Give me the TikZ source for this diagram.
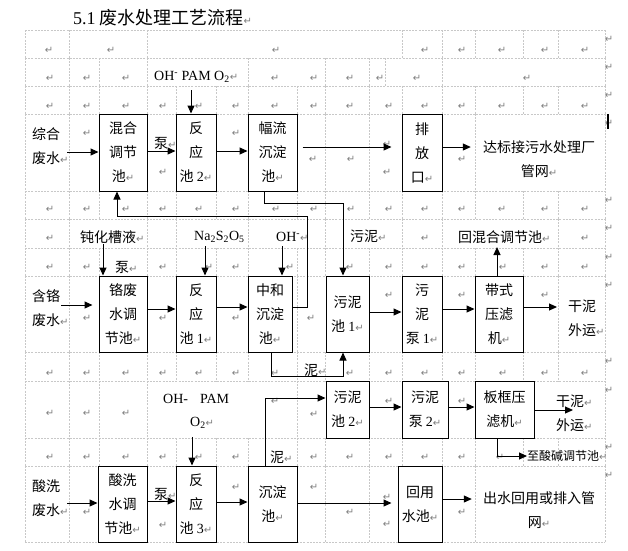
\documentclass[tikz,border=0pt]{standalone}
\usepackage{fontspec}
\setmainfont{Noto Sans CJK SC}
\newfontfamily\lat{Liberation Serif}
\newfontfamily\symf{DejaVu Sans}
\usepackage{xcolor}
\usepackage{tikz}
\usetikzlibrary{
  arrows.meta,
  positioning
}
\definecolor{CellGray}{RGB}{200,200,200}
\definecolor{MarkGray}{RGB}{125,125,125}
\newcommand{\rt}{{\symf\fontsize{10}{10}\selectfont\textcolor{MarkGray}{↵}}}
\tikzset{
    unit/.style={draw, fill=white, line width=1pt, inner sep=0pt, align=center,
        font=\fontsize{14}{24}\selectfont},
    note/.style={inner sep=0pt, align=left, font=\fontsize{14}{24}\selectfont},
    flow/.style={-{Triangle[length=8pt,width=7pt]}, line width=1pt},
    cellline/.style={CellGray, dash pattern=on 2pt off 1.2pt, line width=0.6pt},
    retmark/.style={inner sep=0pt}
}

\begin{document}
\begin{tikzpicture}[x=1pt, y=-1pt]
\useasboundingbox (0,0) rectangle (628,550);

% table grid of the page
\foreach \y in {30,58,86,114,191,219,248,276,352,381,438,466,542}
    \draw[cellline] (25,\y) -- (605,\y);
\foreach \t/\b/\xs in {
    30/58/{25,69,147,402,442,475,523,558,605},
    58/86/{25,69,99,147,248,325,369,385,442,605},
    86/114/{25,69,99,147,176,216,248,297,325,369,402,442,475,523,558,605},
    114/191/{25,69,325,369,475,605},
    191/219/{25,69,99,147,176,216,248,297,325,369,402,442,475,523,558,605},
    219/248/{25,69,147,176,248,325,402,442,558,605},
    248/276/{25,69,99,147,176,216,248,297,325,369,402,442,475,523,558,605},
    276/352/{25,69,297,558,605},
    352/381/{25,69,99,147,176,216,248,297,325,369,402,442,475,523,558,605},
    381/438/{25,69,99,147,297,605},
    438/466/{25,69,99,147,176,216,248,297,325,369,402,442,475,523,558,605},
    466/542/{25,69,325,369,475,605}}
    \foreach \x in \xs
        \draw[cellline] (\x,\t) -- (\x,\b);

% paragraph marks in the empty cells
\foreach \x/\y in {49/50,111/50,276/50,425/50,462/50,502/50,545/50,585/50,
    50/78,87/78,126/78,275/78,314/78,350/78,380/78,417/78,527/78,
    50/106,87/106,126/106,163/106,199/106,236/106,275/106,314/106,350/106,389/106,425/106,462/106,502/106,545/106,585/106,
    87/133,163/172,236/133,313/159,351/159,387/144,387/172,462/159,
    50/209,87/209,126/209,163/209,199/209,236/209,276/209,314/209,351/209,389/209,425/209,462/209,502/209,545/209,585/209,
    50/238,425/238,585/238,
    50/267,87/267,163/267,209/267,236/267,290/267,350/267,389/267,425/267,462/267,503/267,545/267,585/267,
    87/318,163/318,236/318,311/318,389/295,462/295,545/295,
    50/373,87/373,126/373,163/373,199/373,236/373,275/373,350/373,389/373,425/373,462/373,503/373,545/373,585/373,
    50/413,87/413,126/413,275/401,314/414,389/401,462/401,
    50/457,87/457,126/457,163/457,199/457,236/457,314/457,350/457,389/457,425/457,462/457,500/457,
    87/512,163/525,236/487,314/487,350/512,387/497,387/524,462/512,
    609/39,609/67,609/95,609/123,609/200,609/228,609/257,609/285,609/361,609/390,609/447,609/475}
    \node[retmark] at (\x,\y) {\rt};
\draw[line width=1.6pt] (608,114) -- (608,129);

% title
\node[anchor=west, inner sep=0pt, font=\fontsize{18}{18}\selectfont] (title) at (73,18)
    {{\lat 5.1} 废水处理工艺流程\rt};

% units, row 1
\node[unit, minimum width=48pt, minimum height=77pt] (mixA) at (123,152.5) {混合\\调节\\池\rt};
\node[unit, minimum width=40pt, minimum height=77pt] (rxn2) at (196,152.5) {反\\应\\池 {\lat 2}\rt};
\node[unit, minimum width=49pt, minimum height=77pt] (sedA) at (272.5,152.5) {幅流\\沉淀\\池\rt};
\node[unit, minimum width=40pt, minimum height=77pt] (outlet) at (422,152.5) {排\\放\\口\rt};
% units, row 2
\node[unit, minimum width=48pt, minimum height=76pt] (crEq) at (123,314) {铬废\\水调\\节池\rt};
\node[unit, minimum width=40pt, minimum height=76pt] (rxn1) at (196,314) {反\\应\\池 {\lat 1}\rt};
\node[unit, minimum width=44pt, minimum height=76pt] (neut) at (270,314) {中和\\沉淀\\池\rt};
\node[unit, minimum width=43pt, minimum height=76pt] (sludge1) at (347.5,314) {污泥\\池 {\lat 1}\rt};
\node[unit, minimum width=40pt, minimum height=76pt] (pump1) at (422,314) {污\\泥\\泵 {\lat 1}\rt};
\node[unit, minimum width=48pt, minimum height=76pt] (belt) at (499,314) {带式\\压滤\\机\rt};
% units, row 3
\node[unit, minimum width=43pt, minimum height=57pt] (sludge2) at (347.5,409.5) {污泥\\池 {\lat 2}\rt};
\node[unit, minimum width=46pt, minimum height=57pt] (pump2) at (425,409.5) {污泥\\泵 {\lat 2}\rt};
\node[unit, minimum width=59pt, minimum height=57pt] (plate) at (504.5,409.5) {板框压\\滤机\rt};
% units, row 4
\node[unit, minimum width=49pt, minimum height=76pt] (acEq) at (122.5,504) {酸洗\\水调\\节池\rt};
\node[unit, minimum width=40pt, minimum height=76pt] (rxn3) at (196,504) {反\\应\\池 {\lat 3}\rt};
\node[unit, minimum width=49pt, minimum height=76pt] (sedD) at (272.5,504) {沉淀\\池\rt};
\node[unit, minimum width=44pt, minimum height=76pt] (reuse) at (420,504) {回用\\水池\rt};

% texts
\node[note, anchor=west] (srcA) at (32,146) {综合\\废水\rt};
\node[note, anchor=west] (srcB) at (32,308) {含铬\\废水\rt};
\node[note, anchor=west] (srcD) at (32,498) {酸洗\\废水\rt};
\node[note, align=center] (destA) at (539,159) {达标接污水处理厂\\管网\rt};
\node[note, align=center] (destD) at (539,510) {出水回用或排入管\\网\rt};
\node[note, anchor=west] (dryB) at (568,318) {干泥\\外运\rt};
\node[note, anchor=west] (dryC) at (556,413.5) {干泥\rt\\外运\rt};
\node[note, anchor=west] (backMix) at (458,237) {回混合调节池\rt};
\node[note, anchor=west, font=\fontsize{12}{12}\selectfont] (toAcid) at (527,456) {至酸碱调节池\rt};
\node[note, anchor=west] (sludgeTag) at (350,236) {污泥\rt};
\node[note, anchor=west] (mudB) at (304,370) {泥\rt};
\node[note, anchor=west] (mudD) at (270,457) {泥\rt};
\node[note, anchor=west] (pumpA) at (154,143) {泵\rt};
\node[note, anchor=west] (pumpB) at (115,267) {泵\rt};
\node[note, anchor=west] (pumpD) at (154,494) {泵\rt};
\node[note, anchor=west] (passiv) at (80,237) {钝化槽液\rt};
\node[note, anchor=west] (naS) at (194,237) {\lat Na\textsubscript{2}S\textsubscript{2}O\textsubscript{5}};
\node[note, anchor=west] (ohB) at (276,237) {{\lat OH\textsuperscript{-}}\rt};
\node[note, anchor=west] (chemA) at (154,77) {{\lat OH\textsuperscript{-} PAM O\textsubscript{2}}\rt};
\node[note, anchor=west] (chemC) at (163,399) {\lat OH-\hspace{12pt}PAM};
\node[note, anchor=west] (oxC) at (190,423) {{\lat O\textsubscript{2}}\rt};

% free ends
\coordinate (inA) at (67,152);
\coordinate (inB) at (61,305);
\coordinate (inD) at (67,503);
\coordinate (cA) at (191,90);
\coordinate (cB1) at (103,244);
\coordinate (cB2) at (205,246);
\coordinate (cB3) at (282,246);
\coordinate (cC) at (192,437);
\coordinate (jA) at (343,203);
\coordinate (jB) at (307,216);
\coordinate (jC) at (117,216);
\coordinate (jD) at (343,376);
\coordinate (jE) at (265,398);
\coordinate (jF) at (497,456);
\coordinate (bUp) at (497,247);
\coordinate (dryTip) at (573,410);

% row 1
\draw[flow] (inA) -- (inA -| mixA.west);
\draw[flow] ([yshift=1.5pt]mixA.east) -- ([yshift=1.5pt]rxn2.west);
\draw[flow] ([yshift=1.5pt]rxn2.east) -- ([yshift=1.5pt]sedA.west);
\draw[flow, shorten <=5pt, shorten >=10pt] ([yshift=5.5pt]sedA.east) -- ([yshift=5.5pt]sedA.east -| outlet.west);
\draw[flow, shorten >=12pt] ([yshift=5.5pt]outlet.east) -- ([yshift=5.5pt]outlet.east -| destA.west);
\draw[flow] (cA) -- (cA |- rxn2.north);
\draw[flow] ([xshift=-8.5pt]sedA.south) |- (jA) -- (jA |- sludge1.north);
\draw[flow] ([yshift=7pt]neut.east) -| (jB) -- (jC) -- (jC |- mixA.south);

% row 2
\draw[flow] (cB1) -- (cB1 |- crEq.north);
\draw[flow] (cB2) -- (cB2 |- rxn1.north);
\draw[flow] (cB3) -- (cB3 |- neut.north);
\draw[flow, shorten >=6pt] (inB) -- (inB -| crEq.west);
\draw[flow] ([yshift=5pt]crEq.east) -- ([yshift=5pt]crEq.east -| rxn1.west);
\draw[flow] ([yshift=7pt]rxn1.east) -- ([yshift=7pt]rxn1.east -| neut.west);
\draw[flow] ([xshift=1pt]neut.south) |- (jD) -- (jD |- sludge1.south);
\draw[flow] ([yshift=2pt]sludge1.east) -- ([yshift=2pt]sludge1.east -| pump1.west);
\draw[flow] ([yshift=5pt]pump1.east) -- ([yshift=5pt]pump1.east -| belt.west);
\draw[flow, shorten >=11pt] ([yshift=7pt]belt.east) -- ([yshift=7pt]belt.east -| dryB.west);
\draw[flow] (bUp |- belt.north) -- (bUp);

% row 3
\draw[flow] ([xshift=-7.5pt]sedD.north) -- (jE) -- (jE -| sludge2.west);
\draw[flow] ([yshift=2.5pt]sludge2.east) -- ([yshift=2.5pt]pump2.west);
\draw[flow] ([yshift=2.5pt]pump2.east) -- ([yshift=2.5pt]plate.west);
\draw[flow] (plate.east |- dryTip) -- (dryTip);
\draw[flow] (jF |- plate.south) -- (jF) -- (jF -| toAcid.west);

% row 4
\draw[flow] (cC) -- (cC |- rxn3.north);
\draw[flow] (inD) -- (inD -| acEq.west);
\draw[flow] ([yshift=3pt]acEq.east) -- ([yshift=3pt]acEq.east -| rxn3.west);
\draw[flow] ([yshift=2pt]rxn3.east) -- ([yshift=2pt]rxn3.east -| sedD.west);
\draw[flow, shorten >=6pt] ([yshift=1pt]sedD.east) -- ([yshift=1pt]sedD.east -| reuse.west);
\draw[flow, shorten >=11pt] ([yshift=5pt]reuse.east) -- ([yshift=5pt]reuse.east -| destD.west);
\end{tikzpicture}
\end{document}
